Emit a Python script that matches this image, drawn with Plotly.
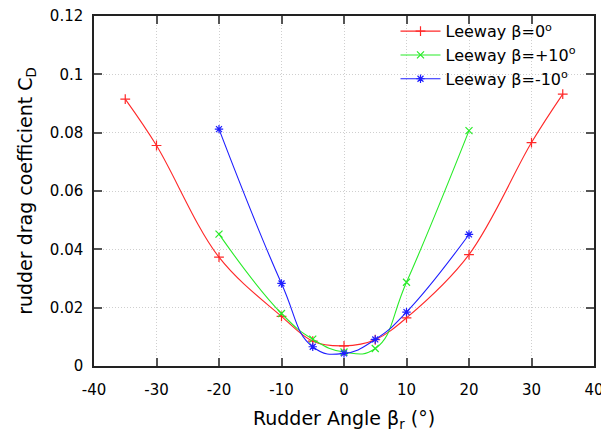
import plotly.graph_objects as go

# Data
x_b0 = [-35, -30, -20, -10, -5, 0, 5, 10, 20, 30, 35]
cd_b0 = [0.0915, 0.0756, 0.0373, 0.0170, 0.0085, 0.0069, 0.0090, 0.0165, 0.0382, 0.0766, 0.0932]

x_bp10 = [-20, -10, -5, 0, 5, 10, 20]
cd_bp10 = [0.0452, 0.0180, 0.0092, 0.0048, 0.0060, 0.0287, 0.0807]

x_bm10 = [-20, -10, -5, 0, 5, 10, 20]
cd_bm10 = [0.0812, 0.0283, 0.0066, 0.0043, 0.0091, 0.0185, 0.0451]

names = ["Leeway β=0<sup>o</sup>", "Leeway β=+10<sup>o</sup>", "Leeway β=-10<sup>o</sup>"]
colors = ["rgb(255,40,40)", "rgb(40,235,40)", "rgb(30,30,255)"]
symbols = ["cross-thin", "x-thin", "asterisk"]
smooth = [1.0, 1.3, 1.3]

xticks = [-40, -30, -20, -10, 0, 10, 20, 30, 40]
yticks = [0, 0.02, 0.04, 0.06, 0.08, 0.1, 0.12]
ytick_text = ["0", "0.02", "0.04", "0.06", "0.08", "0.1", "0.12"]

FONT = "DejaVu Sans"

fig = go.Figure()
for xs, ys, nm, col, sym, sm in zip([x_b0, x_bp10, x_bm10], [cd_b0, cd_bp10, cd_bm10], names, colors, symbols, smooth):
    fig.add_trace(go.Scatter(
        x=xs, y=ys, name=nm, mode="lines+markers",
        line=dict(color=col, width=1.1, shape="spline", smoothing=sm),
        marker=dict(symbol=sym, size=7, color=col, line=dict(color=col, width=1.2)),
    ))

axis_common = dict(
    showline=True, linecolor="#222", linewidth=1.5, mirror="allticks",
    ticks="inside", ticklen=8, tickwidth=1.5, tickcolor="#555",
    showgrid=True, gridcolor="#cfcfcf", griddash="1px,2px", gridwidth=1,
    zeroline=False, automargin=False, ticklabeloverflow="allow",
    tickfont=dict(family=FONT, size=15, color="black"),
)

fig.update_xaxes(range=[-40, 40], tickvals=xticks, ticktext=[str(v) for v in xticks],
                 ticklabelstandoff=9,
                 title=dict(text="Rudder Angle β<sub>r</sub> (°)", font=dict(family=FONT, size=19, color="black"), standoff=14),
                 **axis_common)
fig.update_yaxes(range=[0, 0.12], tickvals=yticks, ticktext=ytick_text,
                 ticklabelstandoff=6,
                 title=dict(text="rudder drag coefficient C<sub>D</sub>", font=dict(family=FONT, size=19, color="black"), standoff=12),
                 **axis_common)

# page body has an 8px margin, so the figure is sized to fit inside the window
fig.update_layout(
    width=601, height=430,
    margin=dict(l=86, r=15, t=6, b=72),
    plot_bgcolor="white", paper_bgcolor="white",
    font=dict(family=FONT, size=15, color="black"),
    legend=dict(x=0.975, y=1.005, xanchor="right", yanchor="top",
                bgcolor="rgba(255,255,255,0)", font=dict(family=FONT, size=16),
                itemwidth=40, tracegroupgap=0),
)

fig.write_html("out.html")
